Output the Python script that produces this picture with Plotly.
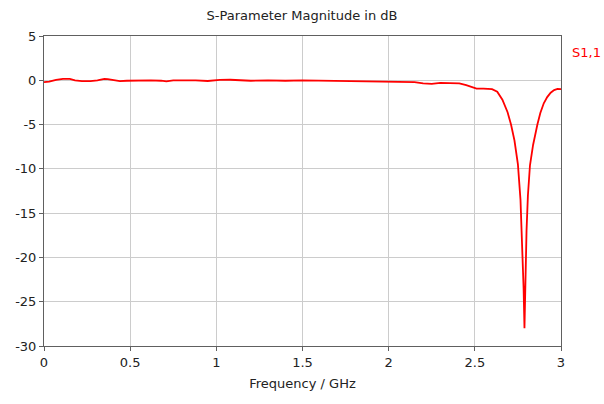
import plotly.graph_objects as go

freq_ghz = [0.0, 0.03, 0.07, 0.11, 0.15, 0.18, 0.22, 0.27, 0.31, 0.35, 0.37, 0.40, 0.44, 0.48,
            0.55, 0.62, 0.68, 0.71, 0.75, 0.82, 0.88, 0.95, 1.02, 1.08, 1.13, 1.2, 1.3, 1.4,
            1.5, 1.6, 1.7, 1.8, 1.9, 2.0, 2.1, 2.15, 2.2, 2.25, 2.3, 2.35, 2.41, 2.45, 2.48,
            2.51, 2.55, 2.6, 2.63, 2.66, 2.69, 2.71, 2.73, 2.75, 2.765, 2.775, 2.783, 2.788,
            2.793, 2.8, 2.808, 2.82, 2.838, 2.85, 2.863, 2.88, 2.9, 2.92, 2.94, 2.96, 2.98, 3.0]
s11_db = [-0.2, -0.15, 0.05, 0.15, 0.15, 0.0, -0.1, -0.1, 0.0, 0.15, 0.12, 0.0, -0.1, -0.05,
          0.0, 0.0, -0.05, -0.12, -0.02, 0.0, 0.0, -0.08, 0.05, 0.06, 0.0, -0.05, 0.0, -0.05,
          0.0, -0.02, -0.05, -0.1, -0.1, -0.15, -0.15, -0.2, -0.35, -0.4, -0.3, -0.3, -0.35, -0.55, -0.75,
          -0.95, -0.95, -1.0, -1.3, -2.2, -3.6, -5.0, -6.8, -9.5, -13.5, -18.0, -23.5, -28.0,
          -23.0, -17.0, -13.0, -9.6, -7.3, -6.0, -5.0, -3.7, -2.6, -1.9, -1.4, -1.1, -0.98, -1.0]

x_ticks = [0, 0.5, 1, 1.5, 2, 2.5, 3]
x_tick_labels = ["0", "0.5", "1", "1.5", "2", "2.5", "3"]
y_ticks = [5, 0, -5, -10, -15, -20, -25, -30]
y_tick_labels = ["5", "0", "-5", "-10", "-15", "-20", "-25", "-30"]

fig = go.Figure()
fig.add_trace(go.Scatter(x=freq_ghz, y=s11_db, mode="lines", name="S1,1",
                         line=dict(color="#ff0000", width=1.8), showlegend=False))

fig.add_annotation(x=1.0, xref="paper", y=1 - 16 / 310, yref="paper", yanchor="middle",
                   text="S1,1", showarrow=False, xanchor="left", xshift=9,
                   font=dict(color="#ff0000", size=13))

axis_common = dict(showline=True, linecolor="#606060", linewidth=1, mirror=True,
                   ticks="outside", ticklen=4, tickcolor="#606060",
                   showgrid=True, gridcolor="#cccccc", gridwidth=1,
                   zeroline=False, tickfont=dict(size=13, color="#222222"))

fig.update_layout(
    width=604, height=404,
    margin=dict(l=44, r=43, t=36, b=58),
    paper_bgcolor="white", plot_bgcolor="white",
    font=dict(family="DejaVu Sans", size=13, color="#222222"),
    title=dict(text="S-Parameter Magnitude in dB", x=0.5, xanchor="center",
               y=1 - 15 / 404, yanchor="middle", font=dict(size=13, color="#222222")),
    xaxis=dict(range=[0, 3], tickvals=x_ticks, ticktext=x_tick_labels,
               title=dict(text="Frequency / GHz", standoff=10, font=dict(size=13)), **axis_common),
    yaxis=dict(range=[-30, 5], tickvals=y_ticks, ticktext=y_tick_labels, **axis_common),
)

fig.write_html("out.html")
